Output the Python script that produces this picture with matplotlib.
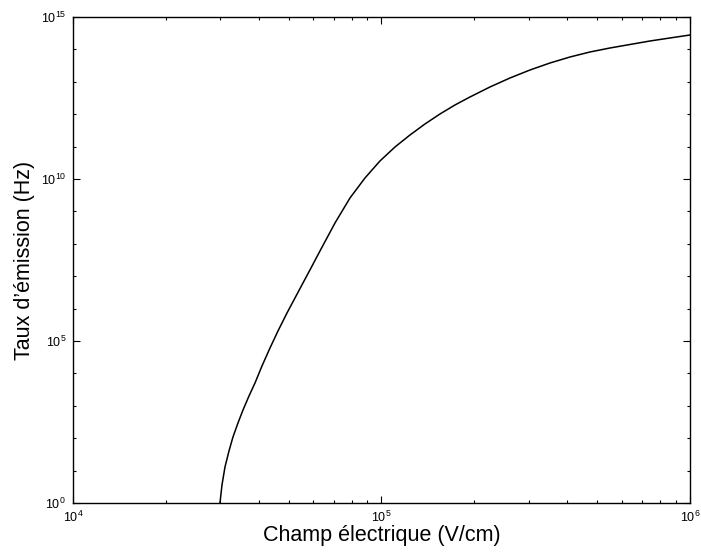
import matplotlib
matplotlib.use("Agg")
import matplotlib.pyplot as plt
import numpy as np
from matplotlib.ticker import LogLocator, NullFormatter

# Emission rate vs electric field (log10 values)
log_field = [4.4765, 4.4830, 4.4927, 4.5057, 4.5186, 4.5348, 4.5511, 4.5705,
             4.5900, 4.6126, 4.6386, 4.6645, 4.6937, 4.7196, 4.7455, 4.7715,
             4.8006, 4.8493, 4.8979, 4.9465, 4.9951, 5.0438, 5.0924, 5.1410,
             5.1896, 5.2382, 5.2869, 5.3517, 5.4165, 5.4814, 5.5462, 5.6110,
             5.6759, 5.7407, 5.8055, 5.8703, 5.9352, 6.0]
log_rate = [0.0, 0.556, 1.111, 1.605, 2.037, 2.469, 2.870, 3.302,
            3.704, 4.228, 4.784, 5.309, 5.864, 6.327, 6.790, 7.253,
            7.778, 8.642, 9.414, 10.031, 10.556, 10.988, 11.358, 11.698,
            12.006, 12.284, 12.531, 12.840, 13.117, 13.364, 13.580, 13.765,
            13.920, 14.043, 14.151, 14.259, 14.352, 14.444]

field = 10 ** np.array(log_field)
rate = 10 ** np.array(log_rate)

plt.rcParams["font.family"] = ["Liberation Sans", "DejaVu Sans"]

fig = plt.figure(figsize=(7.01, 5.55), dpi=100)
ax = fig.add_axes([0.1041, 0.0937, 0.8802, 0.8757])

ax.plot(field, rate, color="black", lw=1.1)

ax.set_xscale("log")
ax.set_yscale("log")
ax.set_xlim(1e4, 1e6)
ax.set_ylim(1e0, 1e15)

ax.xaxis.set_major_locator(LogLocator(base=10, numticks=10))
ax.xaxis.set_minor_locator(LogLocator(base=10, subs=np.arange(2, 10), numticks=20))
ax.xaxis.set_minor_formatter(NullFormatter())
ax.yaxis.set_major_locator(LogLocator(base=10 ** 5, numticks=10))
ax.yaxis.set_minor_locator(LogLocator(base=10, subs=(1.0,), numticks=30))
ax.yaxis.set_minor_formatter(NullFormatter())

ax.tick_params(which="both", direction="in", top=True, right=True, width=0.8)
ax.tick_params(which="major", length=5, labelsize=9, pad=5)
ax.tick_params(which="minor", length=2.5)
for s in ax.spines.values():
    s.set_linewidth(1.0)

ax.set_xlabel("Champ électrique (V/cm)", fontsize=15.5, labelpad=0)
ax.set_ylabel("Taux d’émission (Hz)", fontsize=15.5, labelpad=4)

fig.savefig("out.png", dpi=100)
